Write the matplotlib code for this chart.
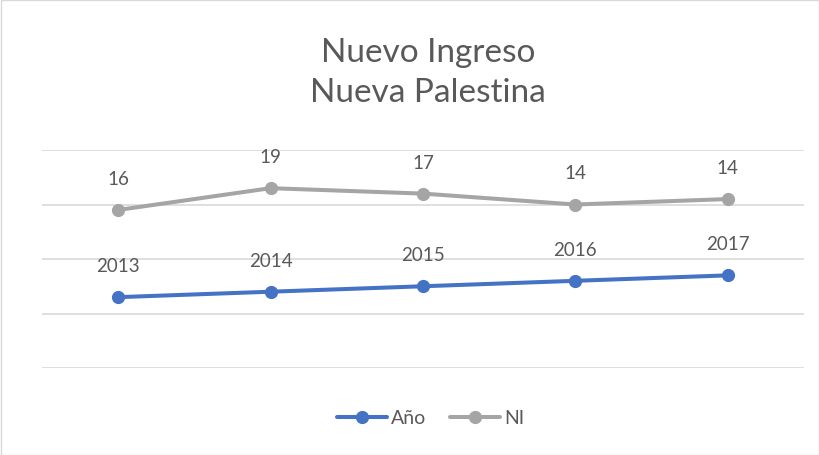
import matplotlib
matplotlib.use("Agg")
import matplotlib.pyplot as plt
from matplotlib.patches import Rectangle

# datos del gráfico (línea apilada, estilo Excel)
categorias = [1, 2, 3, 4, 5]
anio = [2013, 2014, 2015, 2016, 2017]
ni = [16, 19, 17, 14, 14]

plt.rcParams["font.family"] = ["Lato", "DejaVu Sans"]
texto = "#595959"
azul = "#4472C4"
gris = "#A5A5A5"

fig = plt.figure(figsize=(8.2, 4.55), dpi=100)
ax = fig.add_axes([0.0512, 0.1912, 0.9293, 0.4791])

ni_apilado = [a + n for a, n in zip(anio, ni)]

ax.plot(categorias, anio, color=azul, lw=2.9, marker="o", ms=8.5,
        solid_capstyle="round", label="Año", zorder=3)
ax.plot(categorias, ni_apilado, color=gris, lw=2.9, marker="o", ms=8.5,
        solid_capstyle="round", label="NI", zorder=3)

for x, y, v in zip(categorias, anio, anio):
    ax.annotate(str(v), (x, y), xytext=(0, 22), textcoords="offset points",
                ha="center", va="center", fontsize=13.5, color=texto)
for x, y, v in zip(categorias, ni_apilado, ni):
    ax.annotate(str(v), (x, y), xytext=(0, 22), textcoords="offset points",
                ha="center", va="center", fontsize=13.5, color=texto)

ax.set_xlim(0.5, 5.5)
ax.set_ylim(2000, 2040)
ax.set_yticks([2000, 2010, 2020, 2030, 2040])
ax.grid(axis="y", color="#D9D9D9", lw=1.2)
ax.set_axisbelow(True)
ax.tick_params(left=False, bottom=False, labelleft=False, labelbottom=False)
for s in ax.spines.values():
    s.set_visible(False)

fig.text(0.522, 0.84, "Nuevo Ingreso\nNueva Palestina", ha="center", va="center",
         fontsize=24, color=texto, linespacing=1.4)

leg = fig.legend(loc="center", bbox_to_anchor=(0.525, 0.08), ncol=2, frameon=False,
                 fontsize=14, handlelength=2.6, columnspacing=1.2, handletextpad=0.2)
for t in leg.get_texts():
    t.set_color(texto)

fig.patches.append(Rectangle((0.001, 0.001), 0.998, 0.998, transform=fig.transFigure,
                             fill=False, edgecolor="#D9D9D9", lw=1))

fig.savefig("out.png", dpi=100)
